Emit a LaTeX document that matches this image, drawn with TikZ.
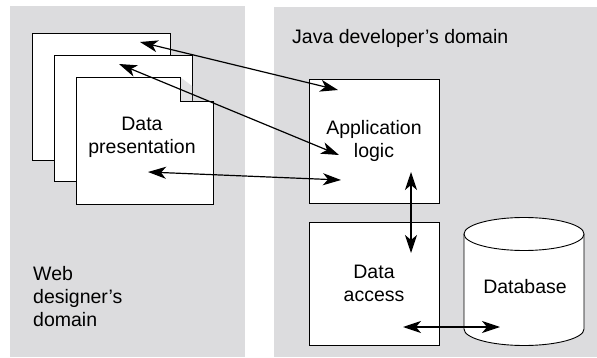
\documentclass[tikz,border=0pt]{standalone}
\usepackage{fontspec}
\setmainfont{Liberation Sans}
\usetikzlibrary{arrows.meta}
\definecolor{panelgray}{RGB}{220,220,222}
\definecolor{foldgray}{RGB}{226,226,228}
\begin{document}
\begin{tikzpicture}[x=1pt,y=-1pt,
    every node/.style={font=\fontsize{19.5}{23}\selectfont},
    box/.style={draw,fill=white,line width=0.9pt,align=center},
    both/.style={{Stealth[length=18pt,width=12pt,inset=5pt]}-{Stealth[length=18pt,width=12pt,inset=5pt]},line width=1.2pt}]
      \useasboundingbox (0,0) rectangle (597,358);
      % the two domains
      \fill[panelgray] (10,6) rectangle (245,357);
      \fill[panelgray] (274,7) rectangle (597,357);
      \node[anchor=west,inner sep=0] (java) at (292,38) {Java developer’s domain};
      \node[anchor=west,inner sep=0,align=left] (web) at (33,297) {Web\\designer’s\\domain};
      % pages
      \node[box,minimum width=137.5,minimum height=127] (pg1) at (101.25,96.5) {};
      \node[box,minimum width=137.5,minimum height=126] (pg2) at (123.25,118) {};
      \filldraw[fill=white,line width=0.9pt] (76,77) -- (180,77) -- (180,101) -- (213,101)
        -- (213,204) -- (76,204) -- cycle;
      \fill[foldgray] (180,77) -- (192,86) -- (192,101) -- (180,101) -- cycle;
      \draw[line width=0.9pt] (180,77) -- (180,101) -- (213,101);
      \node[align=center] (pres) at (142,137) {Data\\presentation};
      % java side
      \node[box,minimum width=130,minimum height=124] (app) at (374,141) {Application\\logic};
      \node[box,minimum width=130,minimum height=123] (acc) at (374,283.5) {Data\\access};
      \filldraw[fill=white,line width=0.9pt] (464,234) -- (464,329) arc (180:0:60 and 16.5) -- (584,234);
      \filldraw[fill=white,line width=0.9pt] (524,234) ellipse (60 and 16.5);
      \node (db) at (525,287) {Database};
      % arrow ends
      \coordinate (p1) at (140,42);
      \coordinate (p2) at (119,64);
      \coordinate (p3) at (148,172);
      \coordinate (a1) at (338,90);
      \coordinate (a2) at (339,155);
      \coordinate (a3) at (341,180);
      \coordinate (a4) at (411,172);
      \coordinate (c1) at (411,253);
      \coordinate (c2) at (403,327);
      \coordinate (d1) at (500,327);
      \draw[both] (p1) -- (a1);
      \draw[both] (p2) -- (a2);
      \draw[both] (p3) -- (a3);
      \draw[both] (a4) -- (c1);
      \draw[both] (c2) -- (d1);
\end{tikzpicture}
\end{document}
